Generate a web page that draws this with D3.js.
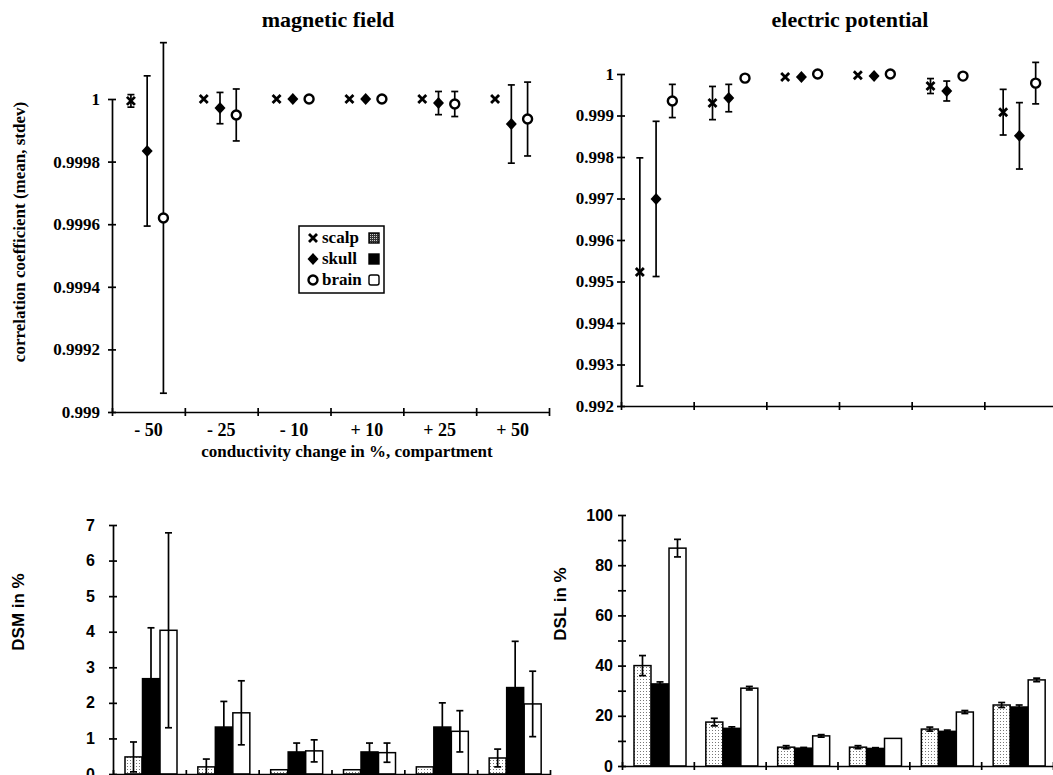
<!DOCTYPE html>
<html>
<head>
<meta charset="utf-8">
<script src="https://cdn.jsdelivr.net/npm/d3@7"></script>
<style>
  body { margin: 0; background: #fff; }
  svg { display: block; }
  .serif { font-family: "Liberation Serif", "Times New Roman", serif; font-weight: bold; }
  .sans { font-family: "Liberation Sans", Arial, sans-serif; font-weight: bold; }
</style>
</head>
<body>
<svg id="chart" width="1053" height="775"></svg>
<script>
var groups = ["- 50", "- 25", "- 10", "+ 10", "+ 25", "+ 50"];
var compartments = ["scalp", "skull", "brain"];

// magnetic field: correlation coefficient, mean and stdev
var mfScalp   = [0.999994, 1.0, 1.0, 1.0, 1.0, 1.0];
var mfScalpSd = [0.00002, 0, 0, 0, 0, 0];
var mfSkull   = [0.999834, 0.999971, 1.0, 1.0, 0.999987, 0.99992];
var mfSkullSd = [0.00024, 0.00005, 0, 0, 0.000037, 0.000125];
var mfBrain   = [0.99962, 0.999949, 1.0, 1.0, 0.999984, 0.999936];
var mfBrainSd = [0.00056, 0.000083, 0, 0, 0.00004, 0.000118];

// electric potential: correlation coefficient, mean and stdev
var epScalp   = [0.99523, 0.9993, 0.99993, 0.99997, 0.99971, 0.99908];
var epScalpSd = [0.00275, 0.0004, 0, 0, 0.00018, 0.00055];
var epSkull   = [0.99699, 0.99942, 0.99993, 0.99995, 0.99959, 0.99851];
var epSkullSd = [0.00187, 0.00033, 0, 0, 0.00024, 0.0008];
var epBrain   = [0.99935, 0.9999, 1.0, 1.0, 0.99995, 0.99978];
var epBrainSd = [0.0004, 0, 0, 0, 0, 0.0005];

// DSM in % (magnetic field)
var dsmScalp   = [0.48, 0.2, 0.12, 0.12, 0.2, 0.45];
var dsmScalpSd = [0.42, 0.22, 0, 0, 0, 0.25];
var dsmSkull   = [2.68, 1.32, 0.62, 0.62, 1.32, 2.43];
var dsmSkullSd = [1.43, 0.72, 0.25, 0.25, 0.68, 1.3];
var dsmBrain   = [4.04, 1.72, 0.65, 0.6, 1.2, 1.97];
var dsmBrainSd = [2.74, 0.9, 0.31, 0.27, 0.58, 0.92];

// DSL in % (electric potential)
var dslScalp   = [40, 17.5, 7.5, 7.5, 14.7, 24.3];
var dslScalpSd = [4, 1.5, 0.6, 0.6, 0.8, 1];
var dslSkull   = [32.7, 15, 7.1, 7, 13.8, 23.5];
var dslSkullSd = [0.8, 0.6, 0.3, 0.3, 0.5, 0.8];
var dslBrain   = [86.8, 31, 12, 11, 21.5, 34.3];
var dslBrainSd = [3.5, 0.7, 0.5, 0, 0.6, 0.7];

var mfTicks = [0.999, 0.9992, 0.9994, 0.9996, 0.9998, 1];
var epTicks = [0.992, 0.993, 0.994, 0.995, 0.996, 0.997, 0.998, 0.999, 1];
var dsmTicks = [0, 1, 2, 3, 4, 5, 6, 7];
var dslTicks = [0, 10, 20, 30, 40, 50, 60, 70, 80, 90, 100];

var svg = d3.select("#chart");

// stipple fill for the scalp bars
var defs = svg.append("defs");
var pat = defs.append("pattern").attr("id", "stipple")
  .attr("width", 3).attr("height", 3).attr("patternUnits", "userSpaceOnUse");
pat.append("rect").attr("width", 3).attr("height", 3).attr("fill", "#fff");
pat.append("rect").attr("x", 1).attr("y", 1).attr("width", 1).attr("height", 1).attr("fill", "#777");
var pat2 = defs.append("pattern").attr("id", "stippleDark")
  .attr("width", 2).attr("height", 2).attr("patternUnits", "userSpaceOnUse");
pat2.append("rect").attr("width", 2).attr("height", 2).attr("fill", "#333");
pat2.append("rect").attr("width", 1).attr("height", 1).attr("fill", "#ccc");

function rows(means, sds) {
  return compartments.map(function (c, i) {
    return groups.map(function (g, j) {
      return { comp: c, group: g, v: means[i][j], sd: sds[i][j] };
    });
  });
}

function crossTicks(axisG, vertical) {
  axisG.selectAll(".tick line").each(function () {
    var l = d3.select(this);
    if (vertical) l.attr("x1", 4).attr("x2", -4);
    else l.attr("y1", -4).attr("y2", 4);
  });
  axisG.selectAll("path, line").attr("stroke", "#000").attr("stroke-width", 1.7);
}

function xAxis(g, range, y0) {
  var xt = d3.scaleLinear().domain([0, 6]).range(range);
  g.append("g").attr("transform", "translate(0," + y0 + ")")
    .call(d3.axisBottom(xt).ticks(6).tickSize(4).tickSizeOuter(0).tickFormat(""))
    .call(function (a) { crossTicks(a, false); });
}

function yAxis(g, y, x0, ticks, fmt, pad, cls, size) {
  var a = g.append("g").attr("transform", "translate(" + x0 + ",0)")
    .call(d3.axisLeft(y).tickValues(ticks).tickFormat(fmt).tickSize(4).tickSizeOuter(0).tickPadding(pad));
  crossTicks(a, true);
  a.selectAll("text").attr("class", cls).style("font-size", size + "px").attr("fill", "#000");
}

function errorBars(g, data, cx, y) {
  var e = g.selectAll(null).data(data.filter(function (d) { return d.sd > 0; })).join("g")
    .attr("stroke", "#000").attr("stroke-width", 1.7);
  e.append("line").attr("x1", cx).attr("x2", cx)
    .attr("y1", function (d) { return y(d.v + d.sd); })
    .attr("y2", function (d) { return y(d.v - d.sd); });
  [1, -1].forEach(function (s) {
    e.append("line")
      .attr("x1", function (d) { return cx(d) - 3.5; })
      .attr("x2", function (d) { return cx(d) + 3.5; })
      .attr("y1", function (d) { return y(d.v + s * d.sd); })
      .attr("y2", function (d) { return y(d.v + s * d.sd); });
  });
}

function marker(sel, comp) {
  if (comp === "scalp") {
    sel.append("path").attr("d", "M-4,-4L4,4M-4,4L4,-4")
      .attr("stroke", "#000").attr("stroke-width", 2.8).attr("fill", "none");
  } else if (comp === "skull") {
    sel.append("path").attr("d", "M0,-6L5.5,0L0,6L-5.5,0Z").attr("fill", "#000");
  } else {
    sel.append("circle").attr("r", 4.5).attr("fill", "#fff")
      .attr("stroke", "#000").attr("stroke-width", 2.4);
  }
}

function scatterPanel(opt) {
  var g = svg.append("g");
  var x = d3.scaleBand().domain(groups).range(opt.xRange);
  var off = d3.scalePoint().domain(compartments).range([-17.5, 15]);
  var y = d3.scaleLinear().domain(opt.yDomain).range(opt.yRange);

  xAxis(g, opt.xRange, opt.yRange[0]);
  yAxis(g, y, opt.xRange[0], opt.ticks, function (d) { return String(d); }, opt.pad, "serif", 17);

  rows(opt.means, opt.sds).forEach(function (series) {
    var cx = function (d) { return x(d.group) + x.bandwidth() / 2 + off(d.comp); };
    errorBars(g, series, cx, y);
    g.selectAll(null).data(series).join("g")
      .attr("transform", function (d) { return "translate(" + cx(d) + "," + y(d.v) + ")"; })
      .each(function (d) { marker(d3.select(this), d.comp); });
  });
  return { g: g, x: x };
}

var fills = { scalp: "url(#stipple)", skull: "#000", brain: "#fff" };

function barPanel(opt) {
  var g = svg.append("g");
  var x = d3.scaleBand().domain(groups).range(opt.xRange);
  var x1 = d3.scaleBand().domain(compartments).range([12, 64]).paddingInner(0.03);
  var y = d3.scaleLinear().domain(opt.yDomain).range(opt.yRange);

  rows(opt.means, opt.sds).forEach(function (series) {
    g.selectAll(null).data(series).join("rect")
      .attr("x", function (d) { return x(d.group) + x1(d.comp); })
      .attr("width", x1.bandwidth())
      .attr("y", function (d) { return y(d.v); })
      .attr("height", function (d) { return y(0) - y(d.v); })
      .attr("fill", function (d) { return fills[d.comp]; })
      .attr("stroke", "#000").attr("stroke-width", 1.5);
    var cx = function (d) { return x(d.group) + x1(d.comp) + x1.bandwidth() / 2; };
    errorBars(g, series, cx, y);
  });

  xAxis(g, opt.xRange, opt.yRange[0]);
  yAxis(g, y, opt.xRange[0], opt.ticks, opt.fmt, opt.pad, "sans", 16);
  return g;
}

// magnetic field
var mf = scatterPanel({
  xRange: [112, 549], yDomain: [0.999, 1], yRange: [412, 99], ticks: mfTicks, pad: 8,
  means: [mfScalp, mfSkull, mfBrain], sds: [mfScalpSd, mfSkullSd, mfBrainSd]
});
mf.g.selectAll(null).data(groups).join("text")
  .attr("class", "serif").style("font-size", "18px").attr("text-anchor", "middle")
  .attr("x", function (d) { return mf.x(d) + mf.x.bandwidth() / 2; })
  .attr("y", 436).text(function (d) { return d; });

// electric potential
scatterPanel({
  xRange: [621, 1057], yDomain: [0.992, 1], yRange: [406, 74], ticks: epTicks, pad: 3,
  means: [epScalp, epSkull, epBrain], sds: [epScalpSd, epSkullSd, epBrainSd]
});

// DSM
barPanel({
  xRange: [113, 550], yDomain: [0, 7], yRange: [774, 525], ticks: dsmTicks,
  fmt: function (d) { return d; }, pad: 14,
  means: [dsmScalp, dsmSkull, dsmBrain], sds: [dsmScalpSd, dsmSkullSd, dsmBrainSd]
});

// DSL
barPanel({
  xRange: [622, 1053], yDomain: [0, 100], yRange: [766, 515], ticks: dslTicks,
  fmt: function (d) { return d % 20 === 0 ? d : ""; }, pad: 5,
  means: [dslScalp, dslSkull, dslBrain], sds: [dslScalpSd, dslSkullSd, dslBrainSd]
});

// titles
svg.append("text").attr("class", "serif").style("font-size", "22px")
  .attr("text-anchor", "middle").attr("x", 328).attr("y", 27).text("magnetic field");
svg.append("text").attr("class", "serif").style("font-size", "22px")
  .attr("text-anchor", "middle").attr("x", 850).attr("y", 27).text("electric potential");
svg.append("text").attr("class", "serif").style("font-size", "17px")
  .attr("text-anchor", "middle").attr("x", 347).attr("y", 457)
  .text("conductivity change in %, compartment");
svg.append("text").attr("class", "serif").style("font-size", "17px")
  .attr("text-anchor", "middle").attr("transform", "translate(25,232) rotate(-90)")
  .text("correlation coefficient (mean, stdev)");
svg.append("text").attr("class", "sans").style("font-size", "17px")
  .attr("text-anchor", "middle").attr("transform", "translate(24,612) rotate(-90)")
  .text("DSM in %");
svg.append("text").attr("class", "sans").style("font-size", "17px")
  .attr("text-anchor", "middle").attr("transform", "translate(566,604) rotate(-90)")
  .text("DSL in %");

// legend
var lg = svg.append("g");
lg.append("rect").attr("x", 299).attr("y", 226).attr("width", 85).attr("height", 67)
  .attr("fill", "#fff").attr("stroke", "#000").attr("stroke-width", 1.5);
var rowY = d3.scalePoint().domain(compartments).range([238, 280]);
var li = lg.selectAll(null).data(compartments).join("g")
  .attr("transform", function (d) { return "translate(0," + rowY(d) + ")"; });
li.append("g").attr("transform", "translate(313,0)").each(function (d) { marker(d3.select(this), d); });
li.append("text").attr("class", "serif").style("font-size", "17px")
  .attr("x", 322).attr("y", 5).text(function (d) { return d; });
li.append("rect").attr("x", 369).attr("y", -5).attr("width", 10).attr("height", 10)
  .attr("fill", function (d) { return d === "scalp" ? "url(#stippleDark)" : fills[d]; })
  .attr("stroke", "#000").attr("stroke-width", 1.4).attr("rx", function (d) { return d === "brain" ? 2 : 0; });
</script>
</body>
</html>
